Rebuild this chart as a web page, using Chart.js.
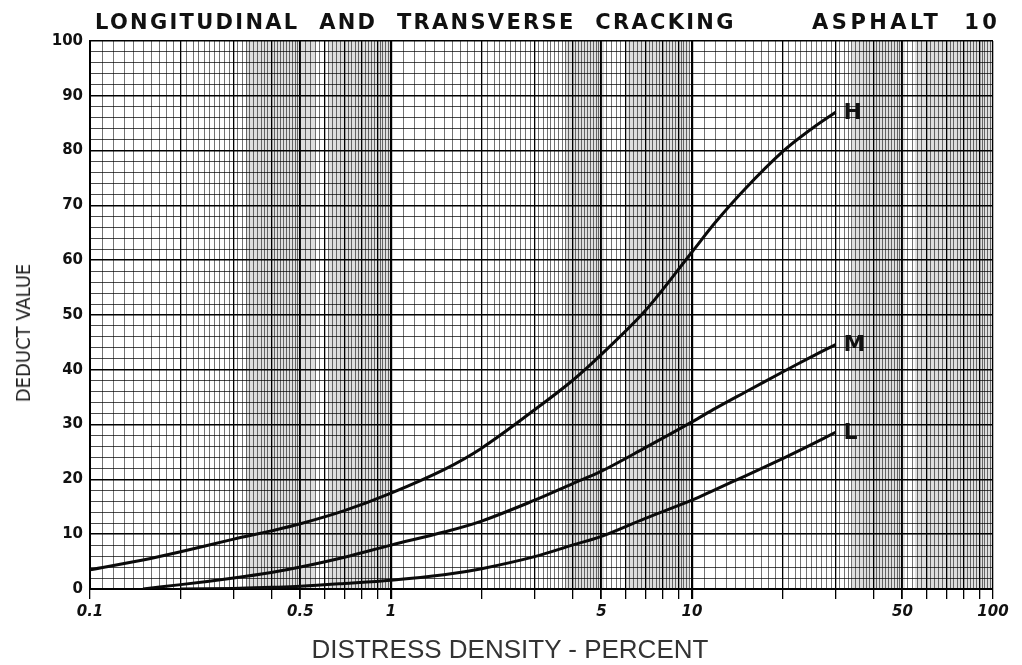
<!DOCTYPE html>
<html>
<head>
<meta charset="utf-8">
<title>Longitudinal and Transverse Cracking - Asphalt 10</title>
<script src="https://cdn.jsdelivr.net/npm/chart.js@4.4.1/dist/chart.umd.min.js"></script>
<style>
  body { margin: 0; background: #fff; }
  #wrap { position: relative; width: 1022px; height: 665px; overflow: hidden; }
  #grafico { position: absolute; left: 0; top: 0; }
  .cabecera {
    position: absolute; top: 10px; white-space: pre;
    font: bold 21px "DejaVu Sans", sans-serif; color: #111;
  }
  #cab-izq { left: 95px; letter-spacing: 2.3px; word-spacing: 10px; }
  #cab-der { left: 812px; letter-spacing: 3.5px; word-spacing: 12px; }
  #titulo-y {
    position: absolute; left: 23px; top: 333px; white-space: pre;
    font: 20px "DejaVu Sans Condensed", "DejaVu Sans", sans-serif; color: #222;
    transform: translate(-50%, -50%) rotate(-90deg);
  }
  #titulo-x {
    position: absolute; left: 510px; top: 649px; white-space: pre;
    font: 26px "Liberation Sans", Arial, sans-serif; color: #333;
    transform: translate(-50%, -50%);
  }
</style>
</head>
<body>
<div id="wrap">
  <canvas id="grafico" width="1022" height="665"></canvas>
  <div class="cabecera" id="cab-izq">LONGITUDINAL AND TRANSVERSE CRACKING</div>
  <div class="cabecera" id="cab-der">ASPHALT 10</div>
  <div id="titulo-y">DEDUCT VALUE</div>
  <div id="titulo-x">DISTRESS DENSITY - PERCENT</div>
</div>
<script>
// densidad (%) y valores deducidos
const densidad = [0.1, 0.15, 0.2, 0.3, 0.4, 0.5, 0.7, 1, 1.5, 2, 3, 4, 5, 7, 10, 12, 15, 20, 25, 30];
const deductH = [3.5, 5.3, 6.8, 9.1, 10.6, 11.9, 14.3, 17.5, 21.8, 25.7, 32.7, 38, 42.8, 50.8, 61.5, 67, 73, 79.8, 84, 87];
const deductM = [null, 0, 0.8, 2.0, 3.0, 4.0, 5.8, 8.0, 10.4, 12.4, 16.2, 19.2, 21.5, 25.8, 30.5, 33, 35.9, 39.6, 42.4, 44.6];
const deductL = [null, null, 0, 0.1, 0.3, 0.5, 1.0, 1.6, 2.6, 3.7, 5.9, 8.0, 9.6, 12.9, 16.2, 18.2, 20.6, 23.8, 26.4, 28.6];
const curvas = ["H", "M", "L"];

// ejes
const etiquetasX = [0.1, 0.5, 1, 5, 10, 50, 100];
const decadas = [0.1, 1, 10];
const yTicks = [0, 10, 20, 30, 40, 50, 60, 70, 80, 90, 100];

// zonas grises del papel reproducido (en % de densidad)
const bandasGrises = [[0.33, 0.56], [0.62, 1.0], [3.8, 5.1], [6.1, 9.8], [34, 51], [55, 100]];

const redondear = (v) => +v.toFixed(4);

// marcas principales 1..9 por decada
const marcasX = [];
decadas.forEach((d) => {
  for (let m = 1; m <= 9; m++) marcasX.push(redondear(m * d));
});
marcasX.push(100);

// rejilla fina del papel logaritmico
const rejillaX = [];
decadas.forEach((d) => {
  for (let m = 10; m < 50; m++) rejillaX.push(redondear((m / 10) * d));
  for (let m = 25; m < 50; m++) rejillaX.push(redondear((m / 5) * d));
});

const puntos = (serie) =>
  densidad.map((x, i) => ({ x: x, y: serie[i] })).filter((p) => p.y !== null);

const fondoPapel = {
  id: "fondoPapel",
  beforeDraw(chart) {
    const { ctx, chartArea, scales } = chart;
    ctx.save();
    ctx.fillStyle = "rgba(0,0,0,0.13)";
    bandasGrises.forEach(([a, b]) => {
      const x0 = scales.x.getPixelForValue(a);
      const x1 = scales.x.getPixelForValue(b);
      ctx.fillRect(x0, chartArea.top, x1 - x0, chartArea.bottom - chartArea.top);
    });
    ctx.restore();
  },
};

const etiquetasCurvas = {
  id: "etiquetasCurvas",
  afterDatasetsDraw(chart) {
    const ctx = chart.ctx;
    ctx.save();
    ctx.font = 'bold 22px "DejaVu Sans"';
    ctx.fillStyle = "#111";
    ctx.textBaseline = "middle";
    chart.data.datasets.forEach((ds, i) => {
      const pts = chart.getDatasetMeta(i).data;
      const ultimo = pts[pts.length - 1];
      ctx.fillText(ds.label, ultimo.x + 8, ultimo.y + 1);
    });
    ctx.restore();
  },
};

const fuenteTicks = { family: '"DejaVu Sans"', size: 15, weight: "bold" };

const serieLinea = (label, serie) => ({
  label: label,
  data: puntos(serie),
  borderColor: "#0a0a0a",
  borderWidth: 3,
  pointRadius: 0,
  fill: false,
  tension: 0.35,
});

new Chart(document.getElementById("grafico").getContext("2d"), {
  type: "line",
  data: {
    datasets: [
      serieLinea(curvas[0], deductH),
      serieLinea(curvas[1], deductM),
      serieLinea(curvas[2], deductL),
    ],
  },
  options: {
    responsive: false,
    animation: false,
    layout: { padding: { top: 41, right: 29, bottom: 0, left: 0 } },
    plugins: { legend: { display: false }, tooltip: { enabled: false } },
    scales: {
      x: {
        type: "logarithmic",
        position: "bottom",
        min: 0.1,
        max: 100,
        afterBuildTicks: (axis) => {
          axis.ticks = marcasX.map((v) => ({ value: v }));
        },
        afterFit: (axis) => {
          axis.height = 76;
        },
        ticks: {
          autoSkip: false,
          maxRotation: 0,
          padding: 4,
          color: "#111",
          font: { ...fuenteTicks, style: "italic" },
          callback: (v) => (etiquetasX.includes(v) ? String(v) : ""),
        },
        grid: {
          color: "#000",
          lineWidth: (c) => {
            const v = c.tick && c.tick.value;
            if (v === 1 || v === 10) return 2.2;
            if (v === 0.5 || v === 5 || v === 50) return 1.8;
            return 1.3;
          },
          tickLength: 10,
        },
        border: { color: "#000", width: 2 },
      },
      xg: {
        type: "logarithmic",
        position: "top",
        min: 0.1,
        max: 100,
        afterBuildTicks: (axis) => {
          axis.ticks = rejillaX.map((v) => ({ value: v }));
        },
        afterFit: (axis) => {
          axis.height = 0;
        },
        ticks: { display: false, autoSkip: false },
        grid: { color: "rgba(0,0,0,0.55)", lineWidth: 1, drawTicks: false },
        border: { display: false },
      },
      y: {
        min: 0,
        max: 100,
        afterFit: (axis) => {
          axis.width = 90;
        },
        ticks: {
          stepSize: 2,
          autoSkip: false,
          padding: 7,
          color: "#111",
          font: fuenteTicks,
          callback: (v) => (yTicks.includes(v) ? String(v) : ""),
        },
        grid: {
          color: (c) => (c.tick && c.tick.value % 10 === 0 ? "#000" : "rgba(0,0,0,0.7)"),
          lineWidth: (c) => (c.tick && c.tick.value % 10 === 0 ? 1.6 : 1),
          drawTicks: false,
        },
        border: { color: "#000", width: 2 },
      },
    },
  },
  plugins: [fondoPapel, etiquetasCurvas],
});
</script>
</body>
</html>
